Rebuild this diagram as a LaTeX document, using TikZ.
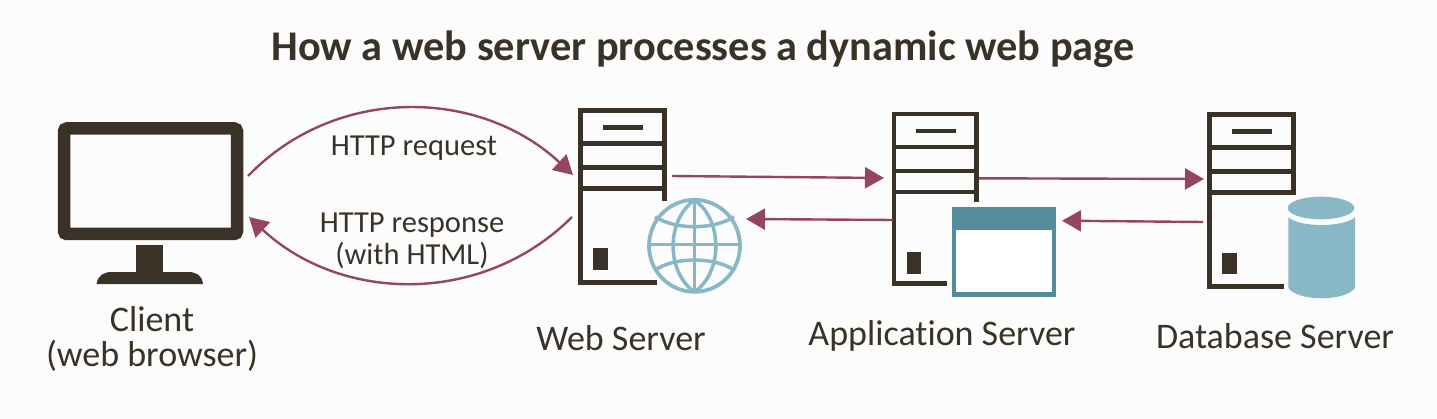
\documentclass[tikz,border=0pt]{standalone}
\usepackage{fontspec}
\setmainfont[Ligatures=NoCommon]{Carlito}
\usetikzlibrary{arrows.meta, shapes.geometric}
\definecolor{ink}{HTML}{3A3226}
\definecolor{wine}{HTML}{96455F}
\definecolor{sky}{HTML}{88B7C6}
\definecolor{teal}{HTML}{558C9C}
\definecolor{paper}{HTML}{FCFCFD}
\tikzset{
	flow/.style = {draw=wine, line width=2.4pt, -{Triangle[length=19pt,width=21pt]}},
	caption/.style = {text=ink, align=center, inner sep=0pt, font=\fontsize{36}{35}\selectfont},
	flowtext/.style = {text=ink, align=center, inner sep=0pt, font=\fontsize{30.5}{32}\selectfont},
	globeline/.style = {sky, line width=3.5pt},
	pics/server/.style n args = {4}{code = {
		\draw[ink, line width=4.7pt, line join=miter] (#1,-#3) -- (#1,0) -- (0,0) -- (0,-#2) -- (#4,-#2);
		\draw[ink, line width=4.7pt] (0,-33) -- (#1,-33) (0,-57) -- (#1,-57) (0,-78) -- (#1,-78);
		\draw[ink, line width=4.7pt] (22,-17) -- (62,-17);
		\fill[ink] (12.5,-138) rectangle (27,-159.5);
	}}
}
\begin{document}
\begin{tikzpicture}[x=1pt, y=1pt]
	\useasboundingbox (0,0) rectangle (1437,418);
	\fill[paper] (0,0) rectangle (1437,418);
	\node[text=ink, inner sep=0pt, font=\fontsize{42.3}{48}\selectfont\bfseries] (title) at (703,369) {How a web server processes a dynamic web page};
	% client
	\node[draw=ink, line width=12.5pt, rounded corners=3pt, inner sep=0pt, minimum width=173pt, minimum height=105.5pt] (client) at (150.5,236.75) {};
	\fill[ink] (136,173) rectangle (163,146);
	\fill[ink] (96.5,134) .. controls (98,143) and (104,146) .. (112,146) -- (188,146) .. controls (196,146) and (202,143) .. (203,134) -- cycle;
	\node[caption] (clientlabel) at (152,79) {Client\\(web browser)};
	% servers
	\pic (web) at (580.5,307.5) {server={84}{172}{91}{76}};
	\pic (app) at (894,304) {server={82.5}{169.7}{88}{52.7}};
	\pic (db) at (1209.8,303.2) {server={83.7}{171.7}{80}{74.5}};
	\node[caption] (weblabel) at (621,80) {Web Server};
	\node[caption] (applabel) at (942,82) {Application Server};
	\node[caption] (dblabel) at (1275,82) {Database Server};
	% globe
	\node[draw=sky, fill=paper, line width=3.8pt, ellipse, inner sep=0pt, minimum width=91pt, minimum height=92pt] (globe) at (694.5,172.2) {};
	\draw[globeline] (694.5,218) -- (694.5,126) (649,173.7) -- (740,173.7);
	\draw[globeline] (694.5,218) .. controls (666,198) and (666,146) .. (694.5,126);
	\draw[globeline] (694.5,218) .. controls (723,198) and (723,146) .. (694.5,126);
	\draw[globeline] (655,201.3) .. controls (675,188) and (714,188) .. (734,201.3);
	\draw[globeline] (655,148) .. controls (675,161.3) and (714,161.3) .. (734,148);
	% window
	\node[draw=teal, fill=white, line width=4.3pt, inner sep=0pt, minimum width=100pt, minimum height=85.5pt] (window) at (1003.9,166.3) {};
	\fill[teal] (951.7,211.3) rectangle (1056,188);
	% database
	\fill[sky] (1288.3,200.7) .. controls (1300,190.4) and (1343,190.4) .. (1355,200.7) -- (1355,130) .. controls (1345,116.3) and (1298,116.3) .. (1288.3,130) -- cycle;
	\node[fill=sky, ellipse, inner sep=0pt, minimum width=66.6pt, minimum height=22.6pt] (dbtop) at (1321,210) {};
	% flows
	\coordinate (reqstart) at (248,242);
	\coordinate (reqend) at (573,243);
	\coordinate (respstart) at (572,201);
	\coordinate (respend) at (249,201);
	\coordinate (webout) at (672,242);
	\coordinate (appin) at (884,240);
	\coordinate (appback) at (893,198);
	\coordinate (webback) at (746,199);
	\coordinate (appout) at (979,239.7);
	\coordinate (dbin) at (1204,239);
	\coordinate (dbback) at (1203,196);
	\coordinate (appbackin) at (1062,197.3);
	\draw[flow] (reqstart) to[out=46,in=137] (reqend);
	\draw[flow] (respstart) to[out=225,in=-43] (respend);
	\draw[flow] (webout) -- (appin);
	\draw[flow] (appback) -- (webback);
	\draw[flow] (appout) -- (dbin);
	\draw[flow] (dbback) -- (appbackin);
	\node[flowtext] (reqlabel) at (414,270) {HTTP request};
	\node[flowtext] (resplabel) at (412,177.5) {HTTP response\\(with HTML)};
\end{tikzpicture}
\end{document}
